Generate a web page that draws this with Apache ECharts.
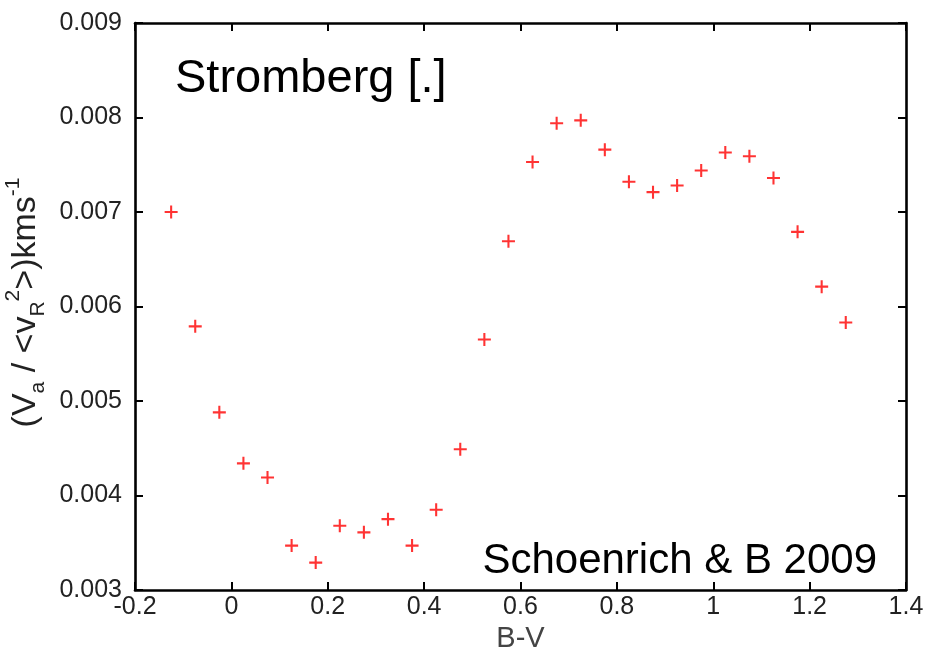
<!DOCTYPE html>
<html>
<head>
<meta charset="utf-8">
<script src="https://cdn.jsdelivr.net/npm/echarts@6/dist/echarts.min.js"></script>
<style>html,body{margin:0;padding:0;background:#fff}#c{width:929px;height:648px}</style>
</head>
<body>
<div id="c"></div>
<script>
var bvValues = [-0.125,-0.075,-0.025,0.025,0.075,0.125,0.175,0.225,0.275,0.325,0.375,0.425,0.475,0.525,0.575,0.625,0.675,0.725,0.775,0.825,0.875,0.925,0.975,1.025,1.075,1.125,1.175,1.225,1.275];
var ratioValues = [0.00700,0.00579,0.00488,0.00434,0.00419,0.00347,0.00329,0.00368,0.00361,0.00375,0.00347,0.00385,0.00449,0.00565,0.00669,0.00753,0.00794,0.00797,0.00766,0.00732,0.00721,0.00728,0.00744,0.00763,0.00759,0.00736,0.00679,0.00621,0.00583];
var xTickLabels = ['-0.2','0','0.2','0.4','0.6','0.8','1','1.2','1.4'];
var yTickLabels = ['0.003','0.004','0.005','0.006','0.007','0.008','0.009'];

var xMin = -0.2, xMax = 1.4, xStep = 0.2;
var yMin = 0.003, yMax = 0.009, yStep = 0.001;

var pts = bvValues.map(function(x,i){return [x, ratioValues[i]];});
var plus = 'path://M4.2,0H5.8V4.2H10V5.8H5.8V10H4.2V5.8H0V4.2H4.2Z';
var font = 'Liberation Sans, Arial, sans-serif';

function xFmt(v){ var i = Math.round((v - xMin)/xStep); return xTickLabels[i] || ''; }
function yFmt(v){ var i = Math.round((v - yMin)/yStep); return yTickLabels[i] || ''; }

var lineStyle = {color:'#000', width:2.6};
var baseX = {type:'value', min:xMin, max:xMax, interval:xStep, splitLine:{show:false},
  axisLine:{show:true, onZero:false, lineStyle:lineStyle},
  axisTick:{show:true, inside:true, length:8, lineStyle:{color:'#000', width:2}}};
var baseY = {type:'value', min:yMin, max:yMax, interval:yStep, splitLine:{show:false},
  axisLine:{show:true, onZero:false, lineStyle:lineStyle},
  axisTick:{show:true, inside:true, length:8, lineStyle:{color:'#000', width:2}}};

var chart = echarts.init(document.getElementById('c'), null, {renderer:'canvas'});
chart.setOption({
  animation:false,
  backgroundColor:'#fff',
  grid:{left:135, right:23, top:23, bottom:58, containLabel:false, outerBoundsMode:'none'},
  xAxis:[
    Object.assign({}, baseX, {position:'bottom',
      axisLabel:{show:true, formatter:xFmt, color:'#222', fontSize:25, fontFamily:font, margin:5},
      name:'B-V', nameLocation:'middle', nameGap:29,
      nameTextStyle:{color:'#444', fontSize:29, fontFamily:font}}),
    Object.assign({}, baseX, {position:'top', axisLabel:{show:false}})
  ],
  yAxis:[
    Object.assign({}, baseY, {position:'left',
      axisLabel:{show:true, formatter:yFmt, color:'#222', fontSize:25, fontFamily:font, margin:13},
      name:'(V{sub|a} / <v{sub|R}{sup|2}>)kms{sup|-1}', nameLocation:'middle', nameRotate:90, nameGap:80,
      nameTextStyle:{color:'#222', fontSize:34, fontFamily:font, lineHeight:46, padding:[0,0,0,8],
        rich:{
          sub:{fontSize:21, fontFamily:font, color:'#222', verticalAlign:'bottom', lineHeight:21},
          sup:{fontSize:21, fontFamily:font, color:'#222', verticalAlign:'top', lineHeight:25}
        }}}),
    Object.assign({}, baseY, {position:'right', axisLabel:{show:false}})
  ],
  series:[{
    type:'scatter', xAxisIndex:0, yAxisIndex:0,
    data:pts, symbol:plus, symbolSize:13,
    itemStyle:{color:'#ff0000'}
  }],
  graphic:[
    {type:'text', left:175, top:56, style:{text:'Stromberg [.]', fill:'#000', font:'47px '+font}},
    {type:'text', right:52, top:540, style:{text:'Schoenrich & B 2009', fill:'#000', font:'42px '+font}}
  ]
});
</script>
</body>
</html>
